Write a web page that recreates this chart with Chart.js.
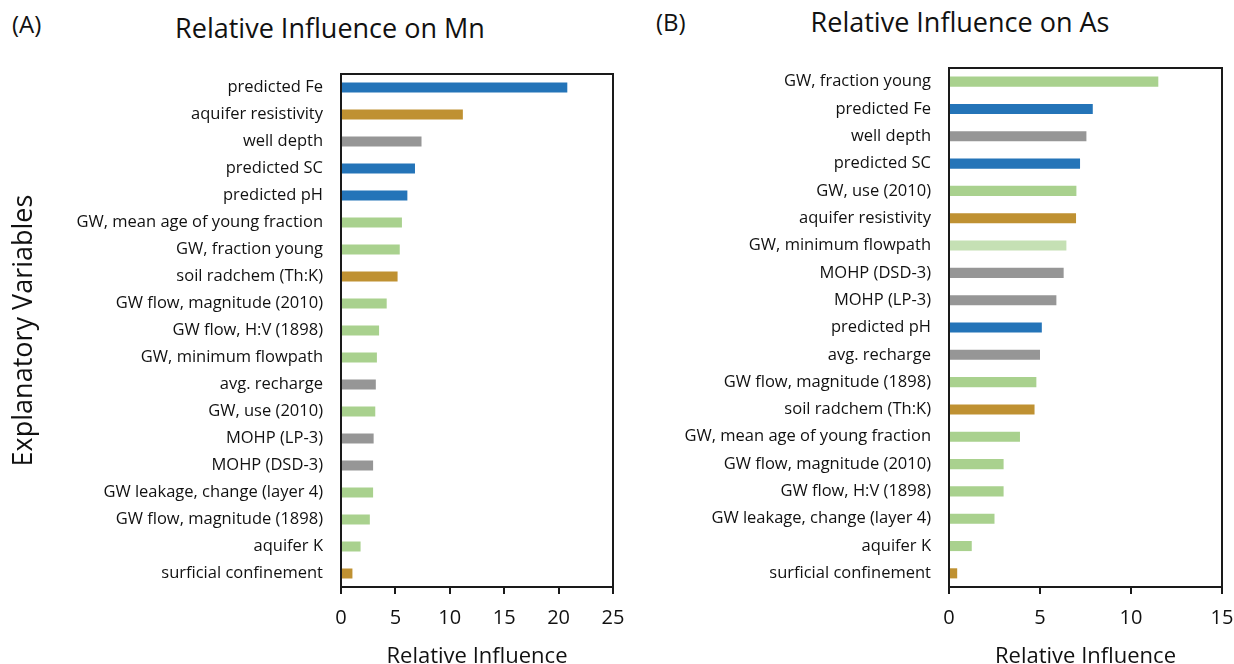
<!DOCTYPE html>
<html>
<head>
<meta charset="utf-8">
<script src="https://cdn.jsdelivr.net/npm/chart.js@4"></script>
<style>
  body { margin: 0; background: #fff; width: 1234px; height: 664px; overflow: hidden; position: relative; font-family: 'Open Sans', sans-serif; color: #111; }
  canvas { position: absolute; top: 0; }
  .letter { position: absolute; font-size: 24px; line-height: 1; }
  .title { position: absolute; font-size: 27px; line-height: 1; transform: translateX(-50%); white-space: nowrap; }
</style>
</head>
<body>
<div class="letter" style="left:12px; top:12px;">(A)</div>
<div class="title" style="left:330px; top:14px;">Relative Influence on Mn</div>
<div class="letter" style="left:656px; top:10px;">(B)</div>
<div class="title" style="left:960px; top:8px;">Relative Influence on As</div>
<canvas id="chartMn" width="640" height="670" style="left:0;"></canvas>
<canvas id="chartAs" width="594" height="670" style="left:640px;"></canvas>
<script>
// panel A - Mn
const mnLabels = ['predicted Fe', 'aquifer resistivity', 'well depth', 'predicted SC', 'predicted pH',
  'GW, mean age of young fraction', 'GW, fraction young', 'soil radchem (Th:K)', 'GW flow, magnitude (2010)',
  'GW flow, H:V (1898)', 'GW, minimum flowpath', 'avg. recharge', 'GW, use (2010)', 'MOHP (LP-3)',
  'MOHP (DSD-3)', 'GW leakage, change (layer 4)', 'GW flow, magnitude (1898)', 'aquifer K', 'surficial confinement'];
const mnValues = [20.8, 11.2, 7.4, 6.8, 6.1, 5.6, 5.4, 5.2, 4.2, 3.5, 3.3, 3.2, 3.15, 3.0, 2.95, 2.95, 2.65, 1.8, 1.05];
const mnGroups = ['pred', 'geo', 'site', 'pred', 'pred', 'gw', 'gw', 'geo', 'gw', 'gw', 'gw', 'site', 'gw', 'site',
  'site', 'gw', 'gw', 'gw', 'geo'];
const mnTicks = [0, 5, 10, 15, 20, 25];

// panel B - As
const asLabels = ['GW, fraction young', 'predicted Fe', 'well depth', 'predicted SC', 'GW, use (2010)',
  'aquifer resistivity', 'GW, minimum flowpath', 'MOHP (DSD-3)', 'MOHP (LP-3)', 'predicted pH', 'avg. recharge',
  'GW flow, magnitude (1898)', 'soil radchem (Th:K)', 'GW, mean age of young fraction', 'GW flow, magnitude (2010)',
  'GW flow, H:V (1898)', 'GW leakage, change (layer 4)', 'aquifer K', 'surficial confinement'];
const asValues = [11.5, 7.9, 7.55, 7.2, 7.0, 6.98, 6.45, 6.3, 5.9, 5.1, 5.0, 4.8, 4.7, 3.9, 3.0, 3.0, 2.5, 1.25, 0.45];
const asGroups = ['gw', 'pred', 'site', 'pred', 'gw', 'geo', 'gwLight', 'site', 'site', 'pred', 'site', 'gw', 'geo',
  'gw', 'gw', 'gw', 'gw', 'gw', 'geo'];
const asTicks = [0, 5, 10, 15];

const groupColors = { pred: '#2474b8', geo: '#bf9132', site: '#969696', gw: '#a9d18e', gwLight: '#c5e0b4' };
const fontFamily = "'Open Sans', sans-serif";
const canvasHeight = 670;

// frame around the plot area
const boxPlugin = {
  id: 'box',
  afterDatasetsDraw(chart) {
    const a = chart.chartArea, c = chart.ctx;
    c.save();
    c.strokeStyle = '#1a1a1a';
    c.lineWidth = 2;
    c.strokeRect(a.left, a.top, a.right - a.left, a.bottom - a.top);
    c.restore();
  }
};

function makeChart(id, labels, values, groups, ticks, opts) {
  return new Chart(document.getElementById(id), {
    type: 'bar',
    data: {
      labels: labels,
      datasets: [{
        data: values,
        backgroundColor: groups.map(g => groupColors[g]),
        barPercentage: 0.37,
        categoryPercentage: 1
      }]
    },
    options: {
      indexAxis: 'y',
      responsive: false,
      animation: false,
      devicePixelRatio: 1,
      layout: { padding: { top: opts.top, right: opts.right, left: 0, bottom: 0 } },
      plugins: { legend: { display: false }, tooltip: { enabled: false } },
      scales: {
        x: {
          min: ticks[0],
          max: ticks[ticks.length - 1],
          afterBuildTicks: s => { s.ticks = ticks.map(v => ({ value: v })); },
          grid: { drawOnChartArea: false, drawTicks: true, tickLength: 7, color: '#1a1a1a', lineWidth: 2 },
          border: { display: false },
          ticks: { color: '#111', font: { family: fontFamily, size: 20 }, padding: 12 },
          title: { display: true, text: 'Relative Influence', color: '#111', font: { family: fontFamily, size: 22 }, padding: { top: 0, bottom: 0 } },
          afterFit: s => {
            s.height = canvasHeight - opts.bottom;
            s.paddingLeft = 0;
            s.paddingRight = 0;
          }
        },
        y: {
          grid: { display: false, drawTicks: false },
          border: { display: false },
          ticks: { color: '#111', font: { family: fontFamily, size: 16.5 }, padding: 18, autoSkip: false },
          title: { display: opts.yTitle, text: 'Explanatory Variables', color: '#111', font: { family: fontFamily, size: 27 }, padding: 8 },
          afterFit: s => { s.width = opts.left; }
        }
      }
    },
    plugins: [boxPlugin]
  });
}

makeChart('chartMn', mnLabels, mnValues, mnGroups, mnTicks, { top: 74, bottom: 587, left: 341, right: 27, yTitle: true });
makeChart('chartAs', asLabels, asValues, asGroups, asTicks, { top: 68, bottom: 587, left: 309, right: 12, yTitle: false });
</script>
</body>
</html>
